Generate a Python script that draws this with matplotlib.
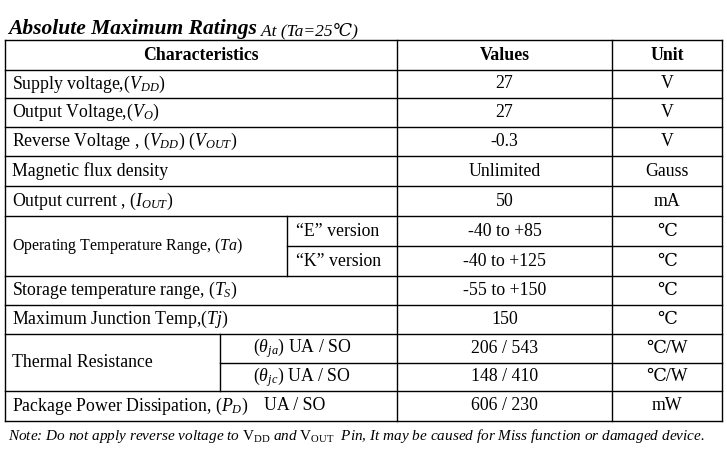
import matplotlib
matplotlib.use("Agg")
import matplotlib.pyplot as plt

title_main = "Absolute Maximum Ratings"
title_sub = " At (Ta=25℃)"
headers = ["Characteristics", "Values", "Unit"]
characteristics = ["Supply voltage,($V_{DD}$)", "Output Voltage,($V_O$)",
                   "Reverse Voltage , ($V_{DD}$) ($V_{OUT}$)", "Magnetic flux density",
                   "Output current , ($I_{OUT}$)", "Operating Temperature Range, ($Ta$)",
                   "Storage temperature range, ($T_S$)", "Maximum Junction Temp,($Tj$)",
                   "Thermal Resistance", "Package Power Dissipation, ($P_D$)"]
sub_labels = [None, None, None, None, None, ["\u201cE\u201d version", "\u201cK\u201d version"],
              None, None, ["($\\theta_{ja}$) UA / SO", "($\\theta_{jc}$) UA / SO"], "UA / SO"]
values = ["27", "27", "-0.3", "Unlimited", "50", ["-40 to +85", "-40 to +125"],
          "-55 to +150", "150", ["206 / 543", "148 / 410"], "606 / 230"]
units = ["V", "V", "V", "Gauss", "mA", ["℃", "℃"], "℃", "℃", ["℃/W", "℃/W"], "mW"]
note = "Note: Do not apply reverse voltage to $\\mathrm{V_{DD}}$ and $\\mathrm{V_{OUT}}$  Pin, It may be caused for Miss function or damaged device."

plt.rcParams['font.family'] = ['Liberation Serif', 'DejaVu Serif']
plt.rcParams['mathtext.fontset'] = 'custom'
plt.rcParams['mathtext.rm'] = 'Liberation Serif'
plt.rcParams['mathtext.it'] = 'Liberation Serif:italic'

fig = plt.figure(figsize=(7.27, 4.5), dpi=100)
ax = fig.add_axes([0, 0, 1, 1])
ax.set_xlim(0, 727); ax.set_ylim(450, 0); ax.axis('off')

L, R = 5, 722
cv, cu = 397, 612
fs = 12.8
lw = 1.0
t = ax.text(8, 34, title_main, fontsize=15.5, fontweight='bold', style='italic', va='baseline')
ax.annotate(title_sub, xy=(1, 0), xycoords=t, fontsize=12.5, style='italic',
            va='bottom', ha='left')

bounds = [40, 70, 98, 127, 156, 186, 216, 276, 305, 334, 391, 421]
for y in bounds:
    ax.plot([L, R], [y, y], color='black', lw=lw)
for x in [L, cv, cu, R]:
    ax.plot([x, x], [40, 421], color='black', lw=lw)
ax.text((L + cv) / 2, 56, headers[0], fontsize=fs, fontweight='bold', ha='center', va='center')
ax.text((cv + cu) / 2, 56, headers[1], fontsize=fs, fontweight='bold', ha='center', va='center')
ax.text((cu + R) / 2, 56, headers[2], fontsize=fs, fontweight='bold', ha='center', va='center')

for i, name in enumerate(characteristics):
    y0, y1 = bounds[i + 1], bounds[i + 2]
    ym = (y0 + y1) / 2
    sub = sub_labels[i]
    ax.text(12, ym, name, fontsize=11.5 if i == 5 else fs, ha='left', va='center')
    if isinstance(sub, list):
        sx = 287 if i == 5 else 220
        ax.plot([sx, sx], [y0, y1], color='black', lw=lw)
        ax.plot([sx, R], [ym, ym], color='black', lw=lw)
        for k in range(2):
            yy = y0 + (k + 0.5) * (y1 - y0) / 2
            if i == 5:
                ax.text(296, yy, sub[k], fontsize=fs, ha='left', va='center')
            else:
                ax.text(302, yy, sub[k], fontsize=fs, ha='center', va='center')
            ax.text((cv + cu) / 2, yy, values[i][k], fontsize=fs, ha='center', va='center')
            ax.text((cu + R) / 2, yy, units[i][k], fontsize=fs, ha='center', va='center')
    else:
        if sub:
            ax.text(264, ym, sub, fontsize=fs, ha='left', va='center')
        ax.text((cv + cu) / 2, ym, values[i], fontsize=fs, ha='center', va='center')
        ax.text((cu + R) / 2, ym, units[i], fontsize=fs, ha='center', va='center')

ax.text(8, 436, note, fontsize=11, style='italic', ha='left', va='center')
fig.savefig("out.png", dpi=100)
